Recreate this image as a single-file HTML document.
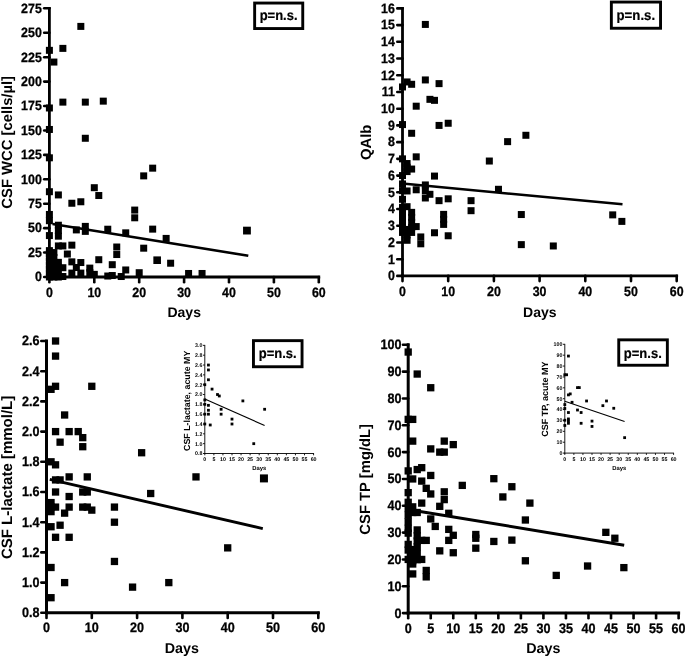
<!DOCTYPE html>
<html lang="en"><head><meta charset="utf-8"><title>CSF parameters vs days</title>
<style>html,body{margin:0;padding:0;background:#fff;overflow:hidden}svg{display:block;will-change:transform;opacity:.999}text{text-rendering:geometricPrecision}</style></head>
<body>
<svg width="685" height="657" viewBox="0 0 685 657">
<rect width="685" height="657" fill="#fff"/>
<g fill="#000" stroke="none" font-family='"Liberation Sans", Arial, sans-serif' font-weight="bold">
<path d="M49.40 6.92V278.40" stroke="#000" stroke-width="2.8" fill="none"/>
<path d="M48.00 277.00H320.20" stroke="#000" stroke-width="2.8" fill="none"/>
<path d="M44.20 277.00H49.40" stroke="#000" stroke-width="2.6" stroke-linecap="round" fill="none"/>
<text transform="translate(41.80 281.34) scale(1 1.09)" font-size="12.4" text-anchor="end" stroke="#000" stroke-width="0.27">0</text>
<path d="M44.20 252.57H49.40" stroke="#000" stroke-width="2.6" stroke-linecap="round" fill="none"/>
<text transform="translate(41.80 256.91) scale(1 1.09)" font-size="12.4" text-anchor="end" stroke="#000" stroke-width="0.27">25</text>
<path d="M44.20 228.15H49.40" stroke="#000" stroke-width="2.6" stroke-linecap="round" fill="none"/>
<text transform="translate(41.80 232.49) scale(1 1.09)" font-size="12.4" text-anchor="end" stroke="#000" stroke-width="0.27">50</text>
<path d="M44.20 203.73H49.40" stroke="#000" stroke-width="2.6" stroke-linecap="round" fill="none"/>
<text transform="translate(41.80 208.06) scale(1 1.09)" font-size="12.4" text-anchor="end" stroke="#000" stroke-width="0.27">75</text>
<path d="M44.20 179.30H49.40" stroke="#000" stroke-width="2.6" stroke-linecap="round" fill="none"/>
<text transform="translate(41.80 183.64) scale(1 1.09)" font-size="12.4" text-anchor="end" stroke="#000" stroke-width="0.27">100</text>
<path d="M44.20 154.88H49.40" stroke="#000" stroke-width="2.6" stroke-linecap="round" fill="none"/>
<text transform="translate(41.80 159.21) scale(1 1.09)" font-size="12.4" text-anchor="end" stroke="#000" stroke-width="0.27">125</text>
<path d="M44.20 130.45H49.40" stroke="#000" stroke-width="2.6" stroke-linecap="round" fill="none"/>
<text transform="translate(41.80 134.79) scale(1 1.09)" font-size="12.4" text-anchor="end" stroke="#000" stroke-width="0.27">150</text>
<path d="M44.20 106.03H49.40" stroke="#000" stroke-width="2.6" stroke-linecap="round" fill="none"/>
<text transform="translate(41.80 110.36) scale(1 1.09)" font-size="12.4" text-anchor="end" stroke="#000" stroke-width="0.27">175</text>
<path d="M44.20 81.60H49.40" stroke="#000" stroke-width="2.6" stroke-linecap="round" fill="none"/>
<text transform="translate(41.80 85.94) scale(1 1.09)" font-size="12.4" text-anchor="end" stroke="#000" stroke-width="0.27">200</text>
<path d="M44.20 57.18H49.40" stroke="#000" stroke-width="2.6" stroke-linecap="round" fill="none"/>
<text transform="translate(41.80 61.51) scale(1 1.09)" font-size="12.4" text-anchor="end" stroke="#000" stroke-width="0.27">225</text>
<path d="M44.20 32.75H49.40" stroke="#000" stroke-width="2.6" stroke-linecap="round" fill="none"/>
<text transform="translate(41.80 37.09) scale(1 1.09)" font-size="12.4" text-anchor="end" stroke="#000" stroke-width="0.27">250</text>
<path d="M44.20 8.32H49.40" stroke="#000" stroke-width="2.6" stroke-linecap="round" fill="none"/>
<text transform="translate(41.80 12.66) scale(1 1.09)" font-size="12.4" text-anchor="end" stroke="#000" stroke-width="0.27">275</text>
<path d="M49.40 277.00V282.20" stroke="#000" stroke-width="2.6" stroke-linecap="round" fill="none"/>
<text transform="translate(49.40 296.80) scale(1 1.09)" font-size="12.4" text-anchor="middle" stroke="#000" stroke-width="0.27">0</text>
<path d="M94.30 277.00V282.20" stroke="#000" stroke-width="2.6" stroke-linecap="round" fill="none"/>
<text transform="translate(94.30 296.80) scale(1 1.09)" font-size="12.4" text-anchor="middle" stroke="#000" stroke-width="0.27">10</text>
<path d="M139.20 277.00V282.20" stroke="#000" stroke-width="2.6" stroke-linecap="round" fill="none"/>
<text transform="translate(139.20 296.80) scale(1 1.09)" font-size="12.4" text-anchor="middle" stroke="#000" stroke-width="0.27">20</text>
<path d="M184.10 277.00V282.20" stroke="#000" stroke-width="2.6" stroke-linecap="round" fill="none"/>
<text transform="translate(184.10 296.80) scale(1 1.09)" font-size="12.4" text-anchor="middle" stroke="#000" stroke-width="0.27">30</text>
<path d="M229.00 277.00V282.20" stroke="#000" stroke-width="2.6" stroke-linecap="round" fill="none"/>
<text transform="translate(229.00 296.80) scale(1 1.09)" font-size="12.4" text-anchor="middle" stroke="#000" stroke-width="0.27">40</text>
<path d="M273.90 277.00V282.20" stroke="#000" stroke-width="2.6" stroke-linecap="round" fill="none"/>
<text transform="translate(273.90 296.80) scale(1 1.09)" font-size="12.4" text-anchor="middle" stroke="#000" stroke-width="0.27">50</text>
<path d="M318.80 277.00V282.20" stroke="#000" stroke-width="2.6" stroke-linecap="round" fill="none"/>
<text transform="translate(318.80 296.80) scale(1 1.09)" font-size="12.4" text-anchor="middle" stroke="#000" stroke-width="0.27">60</text>
<text transform="translate(11.50 142.30) rotate(-90)" font-size="14.8" text-anchor="middle">CSF WCC [cells/µl]</text>
<text x="184.20" y="317.20" font-size="14" text-anchor="middle">Days</text>
<rect x="77.33" y="22.90" width="7" height="7"/>
<rect x="45.90" y="46.84" width="7" height="7"/>
<rect x="59.37" y="44.88" width="7" height="7"/>
<rect x="50.39" y="58.56" width="7" height="7"/>
<rect x="59.37" y="98.62" width="7" height="7"/>
<rect x="81.82" y="98.62" width="7" height="7"/>
<rect x="99.78" y="97.64" width="7" height="7"/>
<rect x="45.90" y="104.48" width="7" height="7"/>
<rect x="45.90" y="125.97" width="7" height="7"/>
<rect x="81.82" y="134.77" width="7" height="7"/>
<rect x="45.90" y="154.31" width="7" height="7"/>
<rect x="140.19" y="172.38" width="7" height="7"/>
<rect x="149.17" y="164.66" width="7" height="7"/>
<rect x="90.80" y="184.20" width="7" height="7"/>
<rect x="95.29" y="192.02" width="7" height="7"/>
<rect x="45.90" y="188.21" width="7" height="7"/>
<rect x="54.88" y="191.43" width="7" height="7"/>
<rect x="68.35" y="199.74" width="7" height="7"/>
<rect x="77.33" y="198.27" width="7" height="7"/>
<rect x="131.21" y="206.58" width="7" height="7"/>
<rect x="131.21" y="214.29" width="7" height="7"/>
<rect x="45.90" y="210.97" width="7" height="7"/>
<rect x="45.90" y="217.22" width="7" height="7"/>
<rect x="54.88" y="221.72" width="7" height="7"/>
<rect x="54.88" y="226.99" width="7" height="7"/>
<rect x="54.88" y="232.66" width="7" height="7"/>
<rect x="81.82" y="222.89" width="7" height="7"/>
<rect x="81.82" y="227.87" width="7" height="7"/>
<rect x="72.84" y="226.41" width="7" height="7"/>
<rect x="104.27" y="225.72" width="7" height="7"/>
<rect x="122.23" y="229.34" width="7" height="7"/>
<rect x="149.17" y="225.63" width="7" height="7"/>
<rect x="162.64" y="234.91" width="7" height="7"/>
<rect x="243.06" y="226.69" width="7.8" height="7.8"/>
<rect x="45.90" y="232.08" width="7" height="7"/>
<rect x="54.88" y="242.43" width="7" height="7"/>
<rect x="59.37" y="242.43" width="7" height="7"/>
<rect x="68.35" y="241.65" width="7" height="7"/>
<rect x="63.86" y="250.54" width="7" height="7"/>
<rect x="113.25" y="243.51" width="7" height="7"/>
<rect x="113.25" y="251.03" width="7" height="7"/>
<rect x="140.19" y="244.68" width="7" height="7"/>
<rect x="95.29" y="256.21" width="7" height="7"/>
<rect x="108.76" y="261.19" width="7" height="7"/>
<rect x="153.36" y="256.40" width="7.6" height="7.6"/>
<rect x="167.13" y="259.72" width="7" height="7"/>
<rect x="68.35" y="258.36" width="7" height="7"/>
<rect x="77.33" y="259.04" width="7" height="7"/>
<rect x="72.84" y="264.02" width="7" height="7"/>
<rect x="68.35" y="269.59" width="7" height="7"/>
<rect x="77.33" y="269.59" width="7" height="7"/>
<rect x="86.31" y="264.61" width="7" height="7"/>
<rect x="86.31" y="269.10" width="7" height="7"/>
<rect x="90.80" y="270.86" width="7" height="7"/>
<rect x="104.27" y="272.52" width="7" height="7"/>
<rect x="108.76" y="272.03" width="7" height="7"/>
<rect x="117.74" y="273.01" width="7" height="7"/>
<rect x="122.23" y="266.47" width="7" height="7"/>
<rect x="135.70" y="269.20" width="7" height="7"/>
<rect x="185.09" y="269.98" width="7" height="7"/>
<rect x="198.56" y="269.98" width="7" height="7"/>
<rect x="59.37" y="264.22" width="7" height="7"/>
<rect x="45.90" y="273.50" width="7" height="7"/>
<rect x="45.90" y="269.59" width="7" height="7"/>
<rect x="45.90" y="265.68" width="7" height="7"/>
<rect x="45.90" y="261.78" width="7" height="7"/>
<rect x="45.90" y="257.87" width="7" height="7"/>
<rect x="45.90" y="253.96" width="7" height="7"/>
<rect x="45.90" y="250.05" width="7" height="7"/>
<rect x="45.90" y="247.12" width="7" height="7"/>
<rect x="50.39" y="273.50" width="7" height="7"/>
<rect x="50.39" y="268.62" width="7" height="7"/>
<rect x="50.39" y="263.73" width="7" height="7"/>
<rect x="50.39" y="258.85" width="7" height="7"/>
<rect x="50.39" y="253.96" width="7" height="7"/>
<rect x="50.39" y="249.07" width="7" height="7"/>
<rect x="54.88" y="273.50" width="7" height="7"/>
<rect x="54.88" y="268.62" width="7" height="7"/>
<rect x="54.88" y="263.73" width="7" height="7"/>
<rect x="54.88" y="258.85" width="7" height="7"/>
<rect x="59.37" y="273.01" width="7" height="7"/>
<path d="M52.50 224.00L248.30 255.80" stroke="#000" stroke-width="2.5" fill="none"/>
<rect x="254.65" y="3.05" width="48.10" height="25.50" fill="#fff" stroke="#000" stroke-width="2.9"/>
<text transform="translate(278.60 20.30) scale(1 1.09)" font-size="13" text-anchor="middle" stroke="#000" stroke-width="0.2">p=n.s.</text>
</g>
<g fill="#000" stroke="none" font-family='"Liberation Sans", Arial, sans-serif' font-weight="bold">
<path d="M402.50 6.98V277.30" stroke="#000" stroke-width="2.8" fill="none"/>
<path d="M401.10 275.90H678.10" stroke="#000" stroke-width="2.8" fill="none"/>
<path d="M397.30 275.90H402.50" stroke="#000" stroke-width="2.6" stroke-linecap="round" fill="none"/>
<text transform="translate(394.90 280.24) scale(1 1.09)" font-size="12.4" text-anchor="end" stroke="#000" stroke-width="0.27">0</text>
<path d="M397.30 259.18H402.50" stroke="#000" stroke-width="2.6" stroke-linecap="round" fill="none"/>
<text transform="translate(394.90 263.52) scale(1 1.09)" font-size="12.4" text-anchor="end" stroke="#000" stroke-width="0.27">1</text>
<path d="M397.30 242.46H402.50" stroke="#000" stroke-width="2.6" stroke-linecap="round" fill="none"/>
<text transform="translate(394.90 246.80) scale(1 1.09)" font-size="12.4" text-anchor="end" stroke="#000" stroke-width="0.27">2</text>
<path d="M397.30 225.74H402.50" stroke="#000" stroke-width="2.6" stroke-linecap="round" fill="none"/>
<text transform="translate(394.90 230.08) scale(1 1.09)" font-size="12.4" text-anchor="end" stroke="#000" stroke-width="0.27">3</text>
<path d="M397.30 209.02H402.50" stroke="#000" stroke-width="2.6" stroke-linecap="round" fill="none"/>
<text transform="translate(394.90 213.36) scale(1 1.09)" font-size="12.4" text-anchor="end" stroke="#000" stroke-width="0.27">4</text>
<path d="M397.30 192.30H402.50" stroke="#000" stroke-width="2.6" stroke-linecap="round" fill="none"/>
<text transform="translate(394.90 196.64) scale(1 1.09)" font-size="12.4" text-anchor="end" stroke="#000" stroke-width="0.27">5</text>
<path d="M397.30 175.58H402.50" stroke="#000" stroke-width="2.6" stroke-linecap="round" fill="none"/>
<text transform="translate(394.90 179.92) scale(1 1.09)" font-size="12.4" text-anchor="end" stroke="#000" stroke-width="0.27">6</text>
<path d="M397.30 158.86H402.50" stroke="#000" stroke-width="2.6" stroke-linecap="round" fill="none"/>
<text transform="translate(394.90 163.20) scale(1 1.09)" font-size="12.4" text-anchor="end" stroke="#000" stroke-width="0.27">7</text>
<path d="M397.30 142.14H402.50" stroke="#000" stroke-width="2.6" stroke-linecap="round" fill="none"/>
<text transform="translate(394.90 146.48) scale(1 1.09)" font-size="12.4" text-anchor="end" stroke="#000" stroke-width="0.27">8</text>
<path d="M397.30 125.42H402.50" stroke="#000" stroke-width="2.6" stroke-linecap="round" fill="none"/>
<text transform="translate(394.90 129.76) scale(1 1.09)" font-size="12.4" text-anchor="end" stroke="#000" stroke-width="0.27">9</text>
<path d="M397.30 108.70H402.50" stroke="#000" stroke-width="2.6" stroke-linecap="round" fill="none"/>
<text transform="translate(394.90 113.04) scale(1 1.09)" font-size="12.4" text-anchor="end" stroke="#000" stroke-width="0.27">10</text>
<path d="M397.30 91.98H402.50" stroke="#000" stroke-width="2.6" stroke-linecap="round" fill="none"/>
<text transform="translate(394.90 96.32) scale(1 1.09)" font-size="12.4" text-anchor="end" stroke="#000" stroke-width="0.27">11</text>
<path d="M397.30 75.26H402.50" stroke="#000" stroke-width="2.6" stroke-linecap="round" fill="none"/>
<text transform="translate(394.90 79.60) scale(1 1.09)" font-size="12.4" text-anchor="end" stroke="#000" stroke-width="0.27">12</text>
<path d="M397.30 58.54H402.50" stroke="#000" stroke-width="2.6" stroke-linecap="round" fill="none"/>
<text transform="translate(394.90 62.88) scale(1 1.09)" font-size="12.4" text-anchor="end" stroke="#000" stroke-width="0.27">13</text>
<path d="M397.30 41.82H402.50" stroke="#000" stroke-width="2.6" stroke-linecap="round" fill="none"/>
<text transform="translate(394.90 46.16) scale(1 1.09)" font-size="12.4" text-anchor="end" stroke="#000" stroke-width="0.27">14</text>
<path d="M397.30 25.10H402.50" stroke="#000" stroke-width="2.6" stroke-linecap="round" fill="none"/>
<text transform="translate(394.90 29.44) scale(1 1.09)" font-size="12.4" text-anchor="end" stroke="#000" stroke-width="0.27">15</text>
<path d="M397.30 8.38H402.50" stroke="#000" stroke-width="2.6" stroke-linecap="round" fill="none"/>
<text transform="translate(394.90 12.72) scale(1 1.09)" font-size="12.4" text-anchor="end" stroke="#000" stroke-width="0.27">16</text>
<path d="M402.50 275.90V281.10" stroke="#000" stroke-width="2.6" stroke-linecap="round" fill="none"/>
<text transform="translate(402.50 296.40) scale(1 1.09)" font-size="12.4" text-anchor="middle" stroke="#000" stroke-width="0.27">0</text>
<path d="M448.20 275.90V281.10" stroke="#000" stroke-width="2.6" stroke-linecap="round" fill="none"/>
<text transform="translate(448.20 296.40) scale(1 1.09)" font-size="12.4" text-anchor="middle" stroke="#000" stroke-width="0.27">10</text>
<path d="M493.90 275.90V281.10" stroke="#000" stroke-width="2.6" stroke-linecap="round" fill="none"/>
<text transform="translate(493.90 296.40) scale(1 1.09)" font-size="12.4" text-anchor="middle" stroke="#000" stroke-width="0.27">20</text>
<path d="M539.60 275.90V281.10" stroke="#000" stroke-width="2.6" stroke-linecap="round" fill="none"/>
<text transform="translate(539.60 296.40) scale(1 1.09)" font-size="12.4" text-anchor="middle" stroke="#000" stroke-width="0.27">30</text>
<path d="M585.30 275.90V281.10" stroke="#000" stroke-width="2.6" stroke-linecap="round" fill="none"/>
<text transform="translate(585.30 296.40) scale(1 1.09)" font-size="12.4" text-anchor="middle" stroke="#000" stroke-width="0.27">40</text>
<path d="M631.00 275.90V281.10" stroke="#000" stroke-width="2.6" stroke-linecap="round" fill="none"/>
<text transform="translate(631.00 296.40) scale(1 1.09)" font-size="12.4" text-anchor="middle" stroke="#000" stroke-width="0.27">50</text>
<path d="M676.70 275.90V281.10" stroke="#000" stroke-width="2.6" stroke-linecap="round" fill="none"/>
<text transform="translate(676.70 296.40) scale(1 1.09)" font-size="12.4" text-anchor="middle" stroke="#000" stroke-width="0.27">60</text>
<text transform="translate(371.00 142.30) rotate(-90)" font-size="14.8" text-anchor="middle">QAlb</text>
<text x="539.80" y="317.20" font-size="14" text-anchor="middle">Days</text>
<rect x="421.85" y="20.93" width="7" height="7"/>
<rect x="421.85" y="76.44" width="7" height="7"/>
<rect x="435.56" y="80.12" width="7" height="7"/>
<rect x="403.57" y="78.45" width="7" height="7"/>
<rect x="408.14" y="80.79" width="7" height="7"/>
<rect x="399.00" y="83.46" width="7" height="7"/>
<rect x="426.42" y="95.84" width="7" height="7"/>
<rect x="430.99" y="96.84" width="7" height="7"/>
<rect x="412.71" y="102.69" width="7" height="7"/>
<rect x="399.00" y="121.08" width="7" height="7"/>
<rect x="435.56" y="121.92" width="7" height="7"/>
<rect x="444.70" y="119.75" width="7" height="7"/>
<rect x="408.14" y="129.78" width="7" height="7"/>
<rect x="504.11" y="138.14" width="7" height="7"/>
<rect x="522.39" y="131.78" width="7" height="7"/>
<rect x="485.83" y="157.53" width="7" height="7"/>
<rect x="412.71" y="153.35" width="7" height="7"/>
<rect x="399.00" y="155.36" width="7" height="7"/>
<rect x="403.57" y="160.04" width="7" height="7"/>
<rect x="408.14" y="165.56" width="7" height="7"/>
<rect x="403.57" y="168.07" width="7" height="7"/>
<rect x="399.00" y="172.08" width="7" height="7"/>
<rect x="430.99" y="172.58" width="7" height="7"/>
<rect x="494.97" y="185.79" width="7" height="7"/>
<rect x="399.00" y="180.44" width="7" height="7"/>
<rect x="399.00" y="187.13" width="7" height="7"/>
<rect x="403.57" y="187.46" width="7" height="7"/>
<rect x="412.71" y="186.29" width="7" height="7"/>
<rect x="421.85" y="181.44" width="7" height="7"/>
<rect x="421.85" y="187.13" width="7" height="7"/>
<rect x="421.85" y="194.48" width="7" height="7"/>
<rect x="426.42" y="190.81" width="7" height="7"/>
<rect x="435.56" y="197.16" width="7" height="7"/>
<rect x="444.70" y="195.32" width="7" height="7"/>
<rect x="467.55" y="197.16" width="7" height="7"/>
<rect x="467.55" y="207.19" width="7" height="7"/>
<rect x="399.00" y="195.82" width="7" height="7"/>
<rect x="517.82" y="211.04" width="7" height="7"/>
<rect x="517.82" y="241.13" width="7" height="7"/>
<rect x="440.13" y="210.87" width="7" height="7"/>
<rect x="440.13" y="215.89" width="7" height="7"/>
<rect x="440.13" y="220.90" width="7" height="7"/>
<rect x="444.70" y="232.27" width="7" height="7"/>
<rect x="430.99" y="229.26" width="7" height="7"/>
<rect x="417.28" y="233.44" width="7" height="7"/>
<rect x="417.28" y="240.30" width="7" height="7"/>
<rect x="399.00" y="203.85" width="7" height="7"/>
<rect x="399.00" y="208.86" width="7" height="7"/>
<rect x="399.00" y="213.88" width="7" height="7"/>
<rect x="399.00" y="218.90" width="7" height="7"/>
<rect x="399.00" y="223.91" width="7" height="7"/>
<rect x="399.00" y="228.93" width="7" height="7"/>
<rect x="403.57" y="203.18" width="7" height="7"/>
<rect x="403.57" y="225.92" width="7" height="7"/>
<rect x="403.57" y="231.44" width="7" height="7"/>
<rect x="403.57" y="236.79" width="7" height="7"/>
<rect x="403.57" y="163.72" width="7" height="7"/>
<rect x="408.14" y="208.86" width="7" height="7"/>
<rect x="408.14" y="213.88" width="7" height="7"/>
<rect x="408.14" y="218.90" width="7" height="7"/>
<rect x="408.14" y="223.91" width="7" height="7"/>
<rect x="408.14" y="228.93" width="7" height="7"/>
<rect x="412.71" y="223.08" width="7" height="7"/>
<rect x="549.81" y="242.47" width="7" height="7"/>
<rect x="609.22" y="211.37" width="7" height="7"/>
<rect x="618.36" y="217.89" width="7" height="7"/>
<path d="M402.40 183.50L622.50 204.30" stroke="#000" stroke-width="2.5" fill="none"/>
<rect x="611.35" y="2.05" width="49.20" height="26.20" fill="#fff" stroke="#000" stroke-width="2.9"/>
<text transform="translate(635.80 19.90) scale(1 1.09)" font-size="13.2" text-anchor="middle" stroke="#000" stroke-width="0.2">p=n.s.</text>
</g>
<g fill="#000" stroke="none" font-family='"Liberation Sans", Arial, sans-serif' font-weight="bold">
<path d="M46.50 339.50V614.30" stroke="#000" stroke-width="3.0" fill="none"/>
<path d="M45.00 612.80H319.80" stroke="#000" stroke-width="3.0" fill="none"/>
<path d="M41.30 612.80H46.50" stroke="#000" stroke-width="2.6" stroke-linecap="round" fill="none"/>
<text transform="translate(39.50 617.22) scale(1 1.09)" font-size="12.6" text-anchor="end" stroke="#000" stroke-width="0.27">0.8</text>
<path d="M41.30 582.60H46.50" stroke="#000" stroke-width="2.6" stroke-linecap="round" fill="none"/>
<text transform="translate(39.50 587.02) scale(1 1.09)" font-size="12.6" text-anchor="end" stroke="#000" stroke-width="0.27">1.0</text>
<path d="M41.30 552.40H46.50" stroke="#000" stroke-width="2.6" stroke-linecap="round" fill="none"/>
<text transform="translate(39.50 556.82) scale(1 1.09)" font-size="12.6" text-anchor="end" stroke="#000" stroke-width="0.27">1.2</text>
<path d="M41.30 522.20H46.50" stroke="#000" stroke-width="2.6" stroke-linecap="round" fill="none"/>
<text transform="translate(39.50 526.62) scale(1 1.09)" font-size="12.6" text-anchor="end" stroke="#000" stroke-width="0.27">1.4</text>
<path d="M41.30 492.00H46.50" stroke="#000" stroke-width="2.6" stroke-linecap="round" fill="none"/>
<text transform="translate(39.50 496.42) scale(1 1.09)" font-size="12.6" text-anchor="end" stroke="#000" stroke-width="0.27">1.6</text>
<path d="M41.30 461.80H46.50" stroke="#000" stroke-width="2.6" stroke-linecap="round" fill="none"/>
<text transform="translate(39.50 466.22) scale(1 1.09)" font-size="12.6" text-anchor="end" stroke="#000" stroke-width="0.27">1.8</text>
<path d="M41.30 431.60H46.50" stroke="#000" stroke-width="2.6" stroke-linecap="round" fill="none"/>
<text transform="translate(39.50 436.02) scale(1 1.09)" font-size="12.6" text-anchor="end" stroke="#000" stroke-width="0.27">2.0</text>
<path d="M41.30 401.40H46.50" stroke="#000" stroke-width="2.6" stroke-linecap="round" fill="none"/>
<text transform="translate(39.50 405.82) scale(1 1.09)" font-size="12.6" text-anchor="end" stroke="#000" stroke-width="0.27">2.2</text>
<path d="M41.30 371.20H46.50" stroke="#000" stroke-width="2.6" stroke-linecap="round" fill="none"/>
<text transform="translate(39.50 375.62) scale(1 1.09)" font-size="12.6" text-anchor="end" stroke="#000" stroke-width="0.27">2.4</text>
<path d="M41.30 341.00H46.50" stroke="#000" stroke-width="2.6" stroke-linecap="round" fill="none"/>
<text transform="translate(39.50 345.42) scale(1 1.09)" font-size="12.6" text-anchor="end" stroke="#000" stroke-width="0.27">2.6</text>
<path d="M46.50 612.80V618.00" stroke="#000" stroke-width="2.6" stroke-linecap="round" fill="none"/>
<text transform="translate(46.50 632.40) scale(1 1.09)" font-size="12.6" text-anchor="middle" stroke="#000" stroke-width="0.27">0</text>
<path d="M91.80 612.80V618.00" stroke="#000" stroke-width="2.6" stroke-linecap="round" fill="none"/>
<text transform="translate(91.80 632.40) scale(1 1.09)" font-size="12.6" text-anchor="middle" stroke="#000" stroke-width="0.27">10</text>
<path d="M137.10 612.80V618.00" stroke="#000" stroke-width="2.6" stroke-linecap="round" fill="none"/>
<text transform="translate(137.10 632.40) scale(1 1.09)" font-size="12.6" text-anchor="middle" stroke="#000" stroke-width="0.27">20</text>
<path d="M182.40 612.80V618.00" stroke="#000" stroke-width="2.6" stroke-linecap="round" fill="none"/>
<text transform="translate(182.40 632.40) scale(1 1.09)" font-size="12.6" text-anchor="middle" stroke="#000" stroke-width="0.27">30</text>
<path d="M227.70 612.80V618.00" stroke="#000" stroke-width="2.6" stroke-linecap="round" fill="none"/>
<text transform="translate(227.70 632.40) scale(1 1.09)" font-size="12.6" text-anchor="middle" stroke="#000" stroke-width="0.27">40</text>
<path d="M273.00 612.80V618.00" stroke="#000" stroke-width="2.6" stroke-linecap="round" fill="none"/>
<text transform="translate(273.00 632.40) scale(1 1.09)" font-size="12.6" text-anchor="middle" stroke="#000" stroke-width="0.27">50</text>
<path d="M318.30 612.80V618.00" stroke="#000" stroke-width="2.6" stroke-linecap="round" fill="none"/>
<text transform="translate(318.30 632.40) scale(1 1.09)" font-size="12.6" text-anchor="middle" stroke="#000" stroke-width="0.27">60</text>
<text transform="translate(11.80 477.40) rotate(-90)" font-size="15.0" text-anchor="middle">CSF L-lactate [mmol/L]</text>
<text x="181.80" y="652.70" font-size="14.3" text-anchor="middle">Days</text>
<rect x="51.91" y="337.35" width="7.3" height="7.3"/>
<rect x="51.91" y="352.45" width="7.3" height="7.3"/>
<rect x="51.91" y="382.65" width="7.3" height="7.3"/>
<rect x="47.38" y="385.67" width="7.3" height="7.3"/>
<rect x="88.15" y="382.65" width="7.3" height="7.3"/>
<rect x="60.97" y="411.34" width="7.3" height="7.3"/>
<rect x="51.91" y="427.95" width="7.3" height="7.3"/>
<rect x="65.50" y="427.95" width="7.3" height="7.3"/>
<rect x="74.56" y="427.95" width="7.3" height="7.3"/>
<rect x="79.09" y="433.99" width="7.3" height="7.3"/>
<rect x="79.09" y="443.05" width="7.3" height="7.3"/>
<rect x="56.44" y="438.52" width="7.3" height="7.3"/>
<rect x="137.98" y="449.09" width="7.3" height="7.3"/>
<rect x="47.38" y="458.15" width="7.3" height="7.3"/>
<rect x="51.91" y="461.17" width="7.3" height="7.3"/>
<rect x="65.50" y="473.25" width="7.3" height="7.3"/>
<rect x="83.62" y="473.25" width="7.3" height="7.3"/>
<rect x="51.91" y="476.27" width="7.3" height="7.3"/>
<rect x="56.44" y="476.27" width="7.3" height="7.3"/>
<rect x="51.91" y="488.35" width="7.3" height="7.3"/>
<rect x="79.09" y="488.35" width="7.3" height="7.3"/>
<rect x="83.62" y="488.35" width="7.3" height="7.3"/>
<rect x="65.50" y="492.88" width="7.3" height="7.3"/>
<rect x="147.04" y="489.86" width="7.3" height="7.3"/>
<rect x="47.38" y="498.92" width="7.3" height="7.3"/>
<rect x="47.38" y="503.45" width="7.3" height="7.3"/>
<rect x="51.91" y="503.45" width="7.3" height="7.3"/>
<rect x="65.50" y="503.45" width="7.3" height="7.3"/>
<rect x="47.38" y="507.98" width="7.3" height="7.3"/>
<rect x="60.97" y="509.49" width="7.3" height="7.3"/>
<rect x="79.09" y="503.45" width="7.3" height="7.3"/>
<rect x="83.62" y="503.45" width="7.3" height="7.3"/>
<rect x="88.15" y="506.47" width="7.3" height="7.3"/>
<rect x="110.80" y="503.45" width="7.3" height="7.3"/>
<rect x="110.80" y="518.55" width="7.3" height="7.3"/>
<rect x="56.44" y="521.57" width="7.3" height="7.3"/>
<rect x="47.38" y="523.08" width="7.3" height="7.3"/>
<rect x="51.91" y="533.65" width="7.3" height="7.3"/>
<rect x="65.50" y="533.65" width="7.3" height="7.3"/>
<rect x="110.80" y="557.81" width="7.3" height="7.3"/>
<rect x="47.38" y="563.85" width="7.3" height="7.3"/>
<rect x="60.97" y="578.95" width="7.3" height="7.3"/>
<rect x="128.92" y="583.48" width="7.3" height="7.3"/>
<rect x="165.16" y="578.95" width="7.3" height="7.3"/>
<rect x="47.38" y="594.05" width="7.3" height="7.3"/>
<rect x="192.34" y="473.25" width="7.3" height="7.3"/>
<rect x="259.94" y="474.41" width="8" height="8"/>
<rect x="224.05" y="544.22" width="7.3" height="7.3"/>
<path d="M49.80 479.40L262.80 528.60" stroke="#000" stroke-width="2.9" fill="none"/>
<rect x="253.45" y="340.65" width="48.60" height="26.10" fill="#fff" stroke="#000" stroke-width="2.9"/>
<text transform="translate(277.70 358.40) scale(1 1.09)" font-size="13" text-anchor="middle" stroke="#000" stroke-width="0.2">p=n.s.</text>
</g>
<g fill="#000" stroke="none" font-family='"Liberation Sans", Arial, sans-serif' font-weight="bold">
<path d="M408.20 343.30V614.60" stroke="#000" stroke-width="3.0" fill="none"/>
<path d="M406.70 613.10H680.12" stroke="#000" stroke-width="3.0" fill="none"/>
<path d="M403.00 613.10H408.20" stroke="#000" stroke-width="2.6" stroke-linecap="round" fill="none"/>
<text transform="translate(401.50 617.52) scale(1 1.09)" font-size="12.6" text-anchor="end" stroke="#000" stroke-width="0.27">0</text>
<path d="M403.00 586.27H408.20" stroke="#000" stroke-width="2.6" stroke-linecap="round" fill="none"/>
<text transform="translate(401.50 590.69) scale(1 1.09)" font-size="12.6" text-anchor="end" stroke="#000" stroke-width="0.27">10</text>
<path d="M403.00 559.44H408.20" stroke="#000" stroke-width="2.6" stroke-linecap="round" fill="none"/>
<text transform="translate(401.50 563.86) scale(1 1.09)" font-size="12.6" text-anchor="end" stroke="#000" stroke-width="0.27">20</text>
<path d="M403.00 532.61H408.20" stroke="#000" stroke-width="2.6" stroke-linecap="round" fill="none"/>
<text transform="translate(401.50 537.03) scale(1 1.09)" font-size="12.6" text-anchor="end" stroke="#000" stroke-width="0.27">30</text>
<path d="M403.00 505.78H408.20" stroke="#000" stroke-width="2.6" stroke-linecap="round" fill="none"/>
<text transform="translate(401.50 510.20) scale(1 1.09)" font-size="12.6" text-anchor="end" stroke="#000" stroke-width="0.27">40</text>
<path d="M403.00 478.95H408.20" stroke="#000" stroke-width="2.6" stroke-linecap="round" fill="none"/>
<text transform="translate(401.50 483.37) scale(1 1.09)" font-size="12.6" text-anchor="end" stroke="#000" stroke-width="0.27">50</text>
<path d="M403.00 452.12H408.20" stroke="#000" stroke-width="2.6" stroke-linecap="round" fill="none"/>
<text transform="translate(401.50 456.54) scale(1 1.09)" font-size="12.6" text-anchor="end" stroke="#000" stroke-width="0.27">60</text>
<path d="M403.00 425.29H408.20" stroke="#000" stroke-width="2.6" stroke-linecap="round" fill="none"/>
<text transform="translate(401.50 429.71) scale(1 1.09)" font-size="12.6" text-anchor="end" stroke="#000" stroke-width="0.27">70</text>
<path d="M403.00 398.46H408.20" stroke="#000" stroke-width="2.6" stroke-linecap="round" fill="none"/>
<text transform="translate(401.50 402.88) scale(1 1.09)" font-size="12.6" text-anchor="end" stroke="#000" stroke-width="0.27">80</text>
<path d="M403.00 371.63H408.20" stroke="#000" stroke-width="2.6" stroke-linecap="round" fill="none"/>
<text transform="translate(401.50 376.05) scale(1 1.09)" font-size="12.6" text-anchor="end" stroke="#000" stroke-width="0.27">90</text>
<path d="M403.00 344.80H408.20" stroke="#000" stroke-width="2.6" stroke-linecap="round" fill="none"/>
<text transform="translate(401.50 349.22) scale(1 1.09)" font-size="12.6" text-anchor="end" stroke="#000" stroke-width="0.27">100</text>
<path d="M408.20 613.10V618.30" stroke="#000" stroke-width="2.6" stroke-linecap="round" fill="none"/>
<text transform="translate(408.20 633.20) scale(1 1.09)" font-size="12.6" text-anchor="middle" stroke="#000" stroke-width="0.27">0</text>
<path d="M430.74 613.10V618.30" stroke="#000" stroke-width="2.6" stroke-linecap="round" fill="none"/>
<text transform="translate(430.74 633.20) scale(1 1.09)" font-size="12.6" text-anchor="middle" stroke="#000" stroke-width="0.27">5</text>
<path d="M453.27 613.10V618.30" stroke="#000" stroke-width="2.6" stroke-linecap="round" fill="none"/>
<text transform="translate(453.27 633.20) scale(1 1.09)" font-size="12.6" text-anchor="middle" stroke="#000" stroke-width="0.27">10</text>
<path d="M475.80 613.10V618.30" stroke="#000" stroke-width="2.6" stroke-linecap="round" fill="none"/>
<text transform="translate(475.80 633.20) scale(1 1.09)" font-size="12.6" text-anchor="middle" stroke="#000" stroke-width="0.27">15</text>
<path d="M498.34 613.10V618.30" stroke="#000" stroke-width="2.6" stroke-linecap="round" fill="none"/>
<text transform="translate(498.34 633.20) scale(1 1.09)" font-size="12.6" text-anchor="middle" stroke="#000" stroke-width="0.27">20</text>
<path d="M520.88 613.10V618.30" stroke="#000" stroke-width="2.6" stroke-linecap="round" fill="none"/>
<text transform="translate(520.88 633.20) scale(1 1.09)" font-size="12.6" text-anchor="middle" stroke="#000" stroke-width="0.27">25</text>
<path d="M543.41 613.10V618.30" stroke="#000" stroke-width="2.6" stroke-linecap="round" fill="none"/>
<text transform="translate(543.41 633.20) scale(1 1.09)" font-size="12.6" text-anchor="middle" stroke="#000" stroke-width="0.27">30</text>
<path d="M565.94 613.10V618.30" stroke="#000" stroke-width="2.6" stroke-linecap="round" fill="none"/>
<text transform="translate(565.94 633.20) scale(1 1.09)" font-size="12.6" text-anchor="middle" stroke="#000" stroke-width="0.27">35</text>
<path d="M588.48 613.10V618.30" stroke="#000" stroke-width="2.6" stroke-linecap="round" fill="none"/>
<text transform="translate(588.48 633.20) scale(1 1.09)" font-size="12.6" text-anchor="middle" stroke="#000" stroke-width="0.27">40</text>
<path d="M611.01 613.10V618.30" stroke="#000" stroke-width="2.6" stroke-linecap="round" fill="none"/>
<text transform="translate(611.01 633.20) scale(1 1.09)" font-size="12.6" text-anchor="middle" stroke="#000" stroke-width="0.27">45</text>
<path d="M633.55 613.10V618.30" stroke="#000" stroke-width="2.6" stroke-linecap="round" fill="none"/>
<text transform="translate(633.55 633.20) scale(1 1.09)" font-size="12.6" text-anchor="middle" stroke="#000" stroke-width="0.27">50</text>
<path d="M656.09 613.10V618.30" stroke="#000" stroke-width="2.6" stroke-linecap="round" fill="none"/>
<text transform="translate(656.09 633.20) scale(1 1.09)" font-size="12.6" text-anchor="middle" stroke="#000" stroke-width="0.27">55</text>
<path d="M678.62 613.10V618.30" stroke="#000" stroke-width="2.6" stroke-linecap="round" fill="none"/>
<text transform="translate(678.62 633.20) scale(1 1.09)" font-size="12.6" text-anchor="middle" stroke="#000" stroke-width="0.27">60</text>
<text transform="translate(370.30 479.30) rotate(-90)" font-size="14.8" text-anchor="middle">CSF TP [mg/dL]</text>
<text x="543.30" y="652.70" font-size="14.3" text-anchor="middle">Days</text>
<rect x="404.55" y="348.39" width="7.3" height="7.3"/>
<rect x="413.56" y="370.39" width="7.3" height="7.3"/>
<rect x="427.09" y="384.08" width="7.3" height="7.3"/>
<rect x="404.55" y="415.74" width="7.3" height="7.3"/>
<rect x="409.06" y="415.74" width="7.3" height="7.3"/>
<rect x="409.06" y="437.47" width="7.3" height="7.3"/>
<rect x="440.61" y="437.47" width="7.3" height="7.3"/>
<rect x="449.62" y="440.96" width="7.3" height="7.3"/>
<rect x="427.09" y="445.25" width="7.3" height="7.3"/>
<rect x="436.10" y="448.47" width="7.3" height="7.3"/>
<rect x="440.61" y="448.47" width="7.3" height="7.3"/>
<rect x="404.55" y="467.25" width="7.3" height="7.3"/>
<rect x="413.56" y="465.91" width="7.3" height="7.3"/>
<rect x="418.07" y="464.03" width="7.3" height="7.3"/>
<rect x="427.09" y="471.81" width="7.3" height="7.3"/>
<rect x="409.06" y="475.30" width="7.3" height="7.3"/>
<rect x="418.07" y="477.45" width="7.3" height="7.3"/>
<rect x="490.18" y="475.03" width="7.3" height="7.3"/>
<rect x="458.63" y="481.74" width="7.3" height="7.3"/>
<rect x="508.21" y="483.08" width="7.3" height="7.3"/>
<rect x="422.58" y="484.69" width="7.3" height="7.3"/>
<rect x="404.55" y="488.98" width="7.3" height="7.3"/>
<rect x="427.09" y="490.32" width="7.3" height="7.3"/>
<rect x="440.61" y="488.18" width="7.3" height="7.3"/>
<rect x="440.61" y="495.96" width="7.3" height="7.3"/>
<rect x="499.20" y="493.28" width="7.3" height="7.3"/>
<rect x="418.07" y="499.45" width="7.3" height="7.3"/>
<rect x="436.10" y="502.67" width="7.3" height="7.3"/>
<rect x="445.11" y="509.64" width="7.3" height="7.3"/>
<rect x="427.09" y="515.28" width="7.3" height="7.3"/>
<rect x="431.59" y="522.79" width="7.3" height="7.3"/>
<rect x="445.11" y="525.74" width="7.3" height="7.3"/>
<rect x="449.62" y="531.64" width="7.3" height="7.3"/>
<rect x="445.11" y="536.74" width="7.3" height="7.3"/>
<rect x="472.15" y="530.84" width="7.3" height="7.3"/>
<rect x="472.15" y="534.59" width="7.3" height="7.3"/>
<rect x="472.15" y="544.52" width="7.3" height="7.3"/>
<rect x="490.18" y="537.81" width="7.3" height="7.3"/>
<rect x="508.21" y="536.47" width="7.3" height="7.3"/>
<rect x="521.73" y="516.35" width="7.3" height="7.3"/>
<rect x="521.73" y="557.13" width="7.3" height="7.3"/>
<rect x="526.24" y="499.45" width="7.3" height="7.3"/>
<rect x="436.10" y="547.20" width="7.3" height="7.3"/>
<rect x="449.62" y="549.08" width="7.3" height="7.3"/>
<rect x="418.07" y="536.74" width="7.3" height="7.3"/>
<rect x="422.58" y="536.74" width="7.3" height="7.3"/>
<rect x="404.55" y="498.64" width="7.3" height="7.3"/>
<rect x="404.55" y="504.81" width="7.3" height="7.3"/>
<rect x="404.55" y="511.52" width="7.3" height="7.3"/>
<rect x="404.55" y="518.23" width="7.3" height="7.3"/>
<rect x="404.55" y="524.67" width="7.3" height="7.3"/>
<rect x="404.55" y="529.50" width="7.3" height="7.3"/>
<rect x="404.55" y="540.77" width="7.3" height="7.3"/>
<rect x="404.55" y="546.40" width="7.3" height="7.3"/>
<rect x="404.55" y="555.79" width="7.3" height="7.3"/>
<rect x="409.06" y="503.20" width="7.3" height="7.3"/>
<rect x="409.06" y="508.84" width="7.3" height="7.3"/>
<rect x="409.06" y="545.86" width="7.3" height="7.3"/>
<rect x="409.06" y="551.77" width="7.3" height="7.3"/>
<rect x="409.06" y="557.13" width="7.3" height="7.3"/>
<rect x="409.06" y="560.35" width="7.3" height="7.3"/>
<rect x="409.06" y="570.28" width="7.3" height="7.3"/>
<rect x="413.56" y="508.84" width="7.3" height="7.3"/>
<rect x="413.56" y="526.28" width="7.3" height="7.3"/>
<rect x="413.56" y="532.18" width="7.3" height="7.3"/>
<rect x="413.56" y="537.28" width="7.3" height="7.3"/>
<rect x="413.56" y="543.18" width="7.3" height="7.3"/>
<rect x="413.56" y="549.89" width="7.3" height="7.3"/>
<rect x="413.56" y="556.06" width="7.3" height="7.3"/>
<rect x="418.07" y="555.79" width="7.3" height="7.3"/>
<rect x="422.58" y="566.79" width="7.3" height="7.3"/>
<rect x="422.58" y="573.23" width="7.3" height="7.3"/>
<rect x="552.60" y="571.75" width="7.3" height="7.3"/>
<rect x="583.93" y="562.36" width="7.3" height="7.3"/>
<rect x="602.18" y="528.69" width="7.3" height="7.3"/>
<rect x="611.20" y="534.59" width="7.3" height="7.3"/>
<rect x="620.21" y="563.97" width="7.3" height="7.3"/>
<path d="M412.50 510.20L624.20 545.20" stroke="#000" stroke-width="2.9" fill="none"/>
<rect x="618.75" y="339.85" width="48.60" height="25.40" fill="#fff" stroke="#000" stroke-width="2.9"/>
<text transform="translate(642.80 357.90) scale(1 1.09)" font-size="13" text-anchor="middle" stroke="#000" stroke-width="0.2">p=n.s.</text>
</g>
<g fill="#000" stroke="none" font-family='"Liberation Sans", Arial, sans-serif' font-weight="bold">
<path d="M204.80 344.92V453.95M204.35 453.50H314.03" stroke="#000" stroke-width="0.9" fill="none"/>
<path d="M203.00 453.50H204.80" stroke="#000" stroke-width="0.9" fill="none"/>
<text x="202.40" y="455.35" font-size="5.3" text-anchor="end">0.8</text>
<path d="M203.00 443.67H204.80" stroke="#000" stroke-width="0.9" fill="none"/>
<text x="202.40" y="445.52" font-size="5.3" text-anchor="end">1.0</text>
<path d="M203.00 433.84H204.80" stroke="#000" stroke-width="0.9" fill="none"/>
<text x="202.40" y="435.69" font-size="5.3" text-anchor="end">1.2</text>
<path d="M203.00 424.01H204.80" stroke="#000" stroke-width="0.9" fill="none"/>
<text x="202.40" y="425.86" font-size="5.3" text-anchor="end">1.4</text>
<path d="M203.00 414.18H204.80" stroke="#000" stroke-width="0.9" fill="none"/>
<text x="202.40" y="416.03" font-size="5.3" text-anchor="end">1.6</text>
<path d="M203.00 404.35H204.80" stroke="#000" stroke-width="0.9" fill="none"/>
<text x="202.40" y="406.20" font-size="5.3" text-anchor="end">1.8</text>
<path d="M203.00 394.52H204.80" stroke="#000" stroke-width="0.9" fill="none"/>
<text x="202.40" y="396.37" font-size="5.3" text-anchor="end">2.0</text>
<path d="M203.00 384.69H204.80" stroke="#000" stroke-width="0.9" fill="none"/>
<text x="202.40" y="386.54" font-size="5.3" text-anchor="end">2.2</text>
<path d="M203.00 374.86H204.80" stroke="#000" stroke-width="0.9" fill="none"/>
<text x="202.40" y="376.71" font-size="5.3" text-anchor="end">2.4</text>
<path d="M203.00 365.03H204.80" stroke="#000" stroke-width="0.9" fill="none"/>
<text x="202.40" y="366.88" font-size="5.3" text-anchor="end">2.6</text>
<path d="M203.00 355.20H204.80" stroke="#000" stroke-width="0.9" fill="none"/>
<text x="202.40" y="357.05" font-size="5.3" text-anchor="end">2.8</text>
<path d="M203.00 345.37H204.80" stroke="#000" stroke-width="0.9" fill="none"/>
<text x="202.40" y="347.22" font-size="5.3" text-anchor="end">3.0</text>
<path d="M204.80 453.50V455.30" stroke="#000" stroke-width="0.9" fill="none"/>
<text x="204.80" y="461.40" font-size="5.3" text-anchor="middle">0</text>
<path d="M213.87 453.50V455.30" stroke="#000" stroke-width="0.9" fill="none"/>
<text x="213.87" y="461.40" font-size="5.3" text-anchor="middle">5</text>
<path d="M222.93 453.50V455.30" stroke="#000" stroke-width="0.9" fill="none"/>
<text x="222.93" y="461.40" font-size="5.3" text-anchor="middle">10</text>
<path d="M232.00 453.50V455.30" stroke="#000" stroke-width="0.9" fill="none"/>
<text x="232.00" y="461.40" font-size="5.3" text-anchor="middle">15</text>
<path d="M241.06 453.50V455.30" stroke="#000" stroke-width="0.9" fill="none"/>
<text x="241.06" y="461.40" font-size="5.3" text-anchor="middle">20</text>
<path d="M250.12 453.50V455.30" stroke="#000" stroke-width="0.9" fill="none"/>
<text x="250.12" y="461.40" font-size="5.3" text-anchor="middle">25</text>
<path d="M259.19 453.50V455.30" stroke="#000" stroke-width="0.9" fill="none"/>
<text x="259.19" y="461.40" font-size="5.3" text-anchor="middle">30</text>
<path d="M268.25 453.50V455.30" stroke="#000" stroke-width="0.9" fill="none"/>
<text x="268.25" y="461.40" font-size="5.3" text-anchor="middle">35</text>
<path d="M277.32 453.50V455.30" stroke="#000" stroke-width="0.9" fill="none"/>
<text x="277.32" y="461.40" font-size="5.3" text-anchor="middle">40</text>
<path d="M286.38 453.50V455.30" stroke="#000" stroke-width="0.9" fill="none"/>
<text x="286.38" y="461.40" font-size="5.3" text-anchor="middle">45</text>
<path d="M295.45 453.50V455.30" stroke="#000" stroke-width="0.9" fill="none"/>
<text x="295.45" y="461.40" font-size="5.3" text-anchor="middle">50</text>
<path d="M304.51 453.50V455.30" stroke="#000" stroke-width="0.9" fill="none"/>
<text x="304.51" y="461.40" font-size="5.3" text-anchor="middle">55</text>
<path d="M313.58 453.50V455.30" stroke="#000" stroke-width="0.9" fill="none"/>
<text x="313.58" y="461.40" font-size="5.3" text-anchor="middle">60</text>
<text transform="translate(189.70 400.80) rotate(-90)" font-size="8.87" text-anchor="middle">CSF L-lactate, acute MY</text>
<text x="259.20" y="469.80" font-size="5.9" text-anchor="middle">Days</text>
<rect x="207.03" y="363.63" width="2.8" height="2.8"/>
<rect x="207.03" y="368.55" width="2.8" height="2.8"/>
<rect x="207.03" y="378.38" width="2.8" height="2.8"/>
<rect x="203.40" y="383.29" width="2.8" height="2.8"/>
<rect x="210.65" y="387.71" width="2.8" height="2.8"/>
<rect x="216.09" y="393.12" width="2.8" height="2.8"/>
<rect x="217.90" y="394.59" width="2.8" height="2.8"/>
<rect x="203.40" y="398.53" width="2.8" height="2.8"/>
<rect x="203.40" y="402.95" width="2.8" height="2.8"/>
<rect x="207.03" y="403.93" width="2.8" height="2.8"/>
<rect x="207.03" y="408.85" width="2.8" height="2.8"/>
<rect x="203.40" y="412.78" width="2.8" height="2.8"/>
<rect x="207.03" y="412.78" width="2.8" height="2.8"/>
<rect x="219.72" y="407.87" width="2.8" height="2.8"/>
<rect x="219.72" y="412.78" width="2.8" height="2.8"/>
<rect x="241.47" y="399.51" width="2.8" height="2.8"/>
<rect x="263.23" y="407.87" width="2.8" height="2.8"/>
<rect x="203.40" y="422.61" width="2.8" height="2.8"/>
<rect x="208.84" y="423.59" width="2.8" height="2.8"/>
<rect x="230.59" y="417.70" width="2.8" height="2.8"/>
<rect x="230.59" y="422.61" width="2.8" height="2.8"/>
<rect x="252.35" y="442.27" width="2.8" height="2.8"/>
<path d="M204.80 399.00L264.60 425.50" stroke="#000" stroke-width="1.1" fill="none"/>
</g>
<g fill="#000" stroke="none" font-family='"Liberation Sans", Arial, sans-serif' font-weight="bold">
<path d="M564.80 343.85V453.55M564.35 453.10H674.03" stroke="#000" stroke-width="0.9" fill="none"/>
<path d="M563.00 453.10H564.80" stroke="#000" stroke-width="0.9" fill="none"/>
<text x="562.40" y="454.95" font-size="5.3" text-anchor="end">0</text>
<path d="M563.00 442.22H564.80" stroke="#000" stroke-width="0.9" fill="none"/>
<text x="562.40" y="444.07" font-size="5.3" text-anchor="end">10</text>
<path d="M563.00 431.34H564.80" stroke="#000" stroke-width="0.9" fill="none"/>
<text x="562.40" y="433.19" font-size="5.3" text-anchor="end">20</text>
<path d="M563.00 420.46H564.80" stroke="#000" stroke-width="0.9" fill="none"/>
<text x="562.40" y="422.31" font-size="5.3" text-anchor="end">30</text>
<path d="M563.00 409.58H564.80" stroke="#000" stroke-width="0.9" fill="none"/>
<text x="562.40" y="411.43" font-size="5.3" text-anchor="end">40</text>
<path d="M563.00 398.70H564.80" stroke="#000" stroke-width="0.9" fill="none"/>
<text x="562.40" y="400.55" font-size="5.3" text-anchor="end">50</text>
<path d="M563.00 387.82H564.80" stroke="#000" stroke-width="0.9" fill="none"/>
<text x="562.40" y="389.67" font-size="5.3" text-anchor="end">60</text>
<path d="M563.00 376.94H564.80" stroke="#000" stroke-width="0.9" fill="none"/>
<text x="562.40" y="378.79" font-size="5.3" text-anchor="end">70</text>
<path d="M563.00 366.06H564.80" stroke="#000" stroke-width="0.9" fill="none"/>
<text x="562.40" y="367.91" font-size="5.3" text-anchor="end">80</text>
<path d="M563.00 355.18H564.80" stroke="#000" stroke-width="0.9" fill="none"/>
<text x="562.40" y="357.03" font-size="5.3" text-anchor="end">90</text>
<path d="M563.00 344.30H564.80" stroke="#000" stroke-width="0.9" fill="none"/>
<text x="562.40" y="346.15" font-size="5.3" text-anchor="end">100</text>
<path d="M564.80 453.10V454.90" stroke="#000" stroke-width="0.9" fill="none"/>
<text x="564.80" y="461.00" font-size="5.3" text-anchor="middle">0</text>
<path d="M573.87 453.10V454.90" stroke="#000" stroke-width="0.9" fill="none"/>
<text x="573.87" y="461.00" font-size="5.3" text-anchor="middle">5</text>
<path d="M582.93 453.10V454.90" stroke="#000" stroke-width="0.9" fill="none"/>
<text x="582.93" y="461.00" font-size="5.3" text-anchor="middle">10</text>
<path d="M592.00 453.10V454.90" stroke="#000" stroke-width="0.9" fill="none"/>
<text x="592.00" y="461.00" font-size="5.3" text-anchor="middle">15</text>
<path d="M601.06 453.10V454.90" stroke="#000" stroke-width="0.9" fill="none"/>
<text x="601.06" y="461.00" font-size="5.3" text-anchor="middle">20</text>
<path d="M610.12 453.10V454.90" stroke="#000" stroke-width="0.9" fill="none"/>
<text x="610.12" y="461.00" font-size="5.3" text-anchor="middle">25</text>
<path d="M619.19 453.10V454.90" stroke="#000" stroke-width="0.9" fill="none"/>
<text x="619.19" y="461.00" font-size="5.3" text-anchor="middle">30</text>
<path d="M628.25 453.10V454.90" stroke="#000" stroke-width="0.9" fill="none"/>
<text x="628.25" y="461.00" font-size="5.3" text-anchor="middle">35</text>
<path d="M637.32 453.10V454.90" stroke="#000" stroke-width="0.9" fill="none"/>
<text x="637.32" y="461.00" font-size="5.3" text-anchor="middle">40</text>
<path d="M646.38 453.10V454.90" stroke="#000" stroke-width="0.9" fill="none"/>
<text x="646.38" y="461.00" font-size="5.3" text-anchor="middle">45</text>
<path d="M655.45 453.10V454.90" stroke="#000" stroke-width="0.9" fill="none"/>
<text x="655.45" y="461.00" font-size="5.3" text-anchor="middle">50</text>
<path d="M664.51 453.10V454.90" stroke="#000" stroke-width="0.9" fill="none"/>
<text x="664.51" y="461.00" font-size="5.3" text-anchor="middle">55</text>
<path d="M673.58 453.10V454.90" stroke="#000" stroke-width="0.9" fill="none"/>
<text x="673.58" y="461.00" font-size="5.3" text-anchor="middle">60</text>
<text transform="translate(548.00 399.20) rotate(-90)" font-size="9.0" text-anchor="middle">CSF TP, acute MY</text>
<text x="619.20" y="469.80" font-size="5.9" text-anchor="middle">Days</text>
<rect x="567.03" y="354.65" width="2.8" height="2.8"/>
<rect x="563.40" y="373.36" width="2.8" height="2.8"/>
<rect x="565.21" y="373.36" width="2.8" height="2.8"/>
<rect x="576.09" y="386.20" width="2.8" height="2.8"/>
<rect x="577.90" y="386.20" width="2.8" height="2.8"/>
<rect x="567.03" y="393.49" width="2.8" height="2.8"/>
<rect x="568.84" y="392.51" width="2.8" height="2.8"/>
<rect x="585.16" y="399.58" width="2.8" height="2.8"/>
<rect x="570.65" y="400.89" width="2.8" height="2.8"/>
<rect x="563.40" y="403.18" width="2.8" height="2.8"/>
<rect x="563.40" y="407.09" width="2.8" height="2.8"/>
<rect x="605.10" y="399.58" width="2.8" height="2.8"/>
<rect x="601.47" y="404.26" width="2.8" height="2.8"/>
<rect x="612.35" y="406.87" width="2.8" height="2.8"/>
<rect x="576.09" y="408.62" width="2.8" height="2.8"/>
<rect x="567.03" y="411.12" width="2.8" height="2.8"/>
<rect x="579.72" y="411.12" width="2.8" height="2.8"/>
<rect x="567.03" y="417.54" width="2.8" height="2.8"/>
<rect x="567.03" y="419.71" width="2.8" height="2.8"/>
<rect x="567.03" y="421.89" width="2.8" height="2.8"/>
<rect x="563.40" y="418.84" width="2.8" height="2.8"/>
<rect x="563.40" y="424.06" width="2.8" height="2.8"/>
<rect x="579.72" y="421.89" width="2.8" height="2.8"/>
<rect x="590.60" y="419.71" width="2.8" height="2.8"/>
<rect x="590.60" y="425.04" width="2.8" height="2.8"/>
<rect x="623.23" y="436.25" width="2.8" height="2.8"/>
<path d="M564.80 401.20L624.60 421.50" stroke="#000" stroke-width="1.1" fill="none"/>
</g>
</svg>
</body></html>
